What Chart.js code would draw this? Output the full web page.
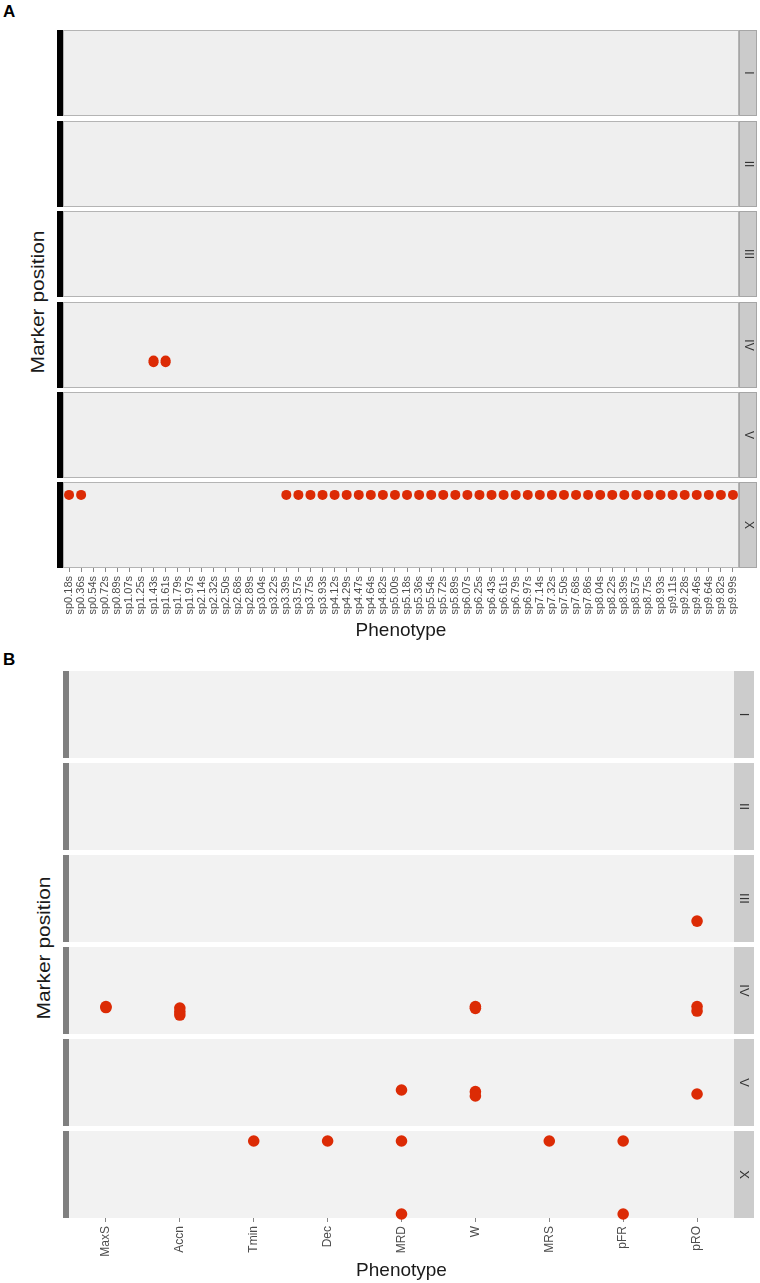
<!DOCTYPE html>
<html>
<head>
<meta charset="utf-8">
<script src="https://cdn.jsdelivr.net/npm/chart.js@4.4.1/dist/chart.umd.min.js"></script>
<style>
  body { margin: 0; background: #fff; width: 760px; height: 1283px; position: relative; overflow: hidden;
         font-family: "Liberation Sans", Arial, sans-serif; }
  canvas { position: absolute; left: 0; }
  .tag { position: absolute; font-weight: bold; font-size: 17px; color: #000; }
  .ytitle { position: absolute; width: 240px; height: 24px; line-height: 24px; text-align: center;
            font-size: 19px; color: #1a1a1a; transform: rotate(-90deg) scaleX(1.1); white-space: nowrap; }
</style>
</head>
<body>
<div class="tag" style="left:3px;top:2px">A</div>
<div class="tag" style="left:3px;top:650px">B</div>
<div class="ytitle" style="left:-82px;top:290px">Marker position</div>
<div class="ytitle" style="left:-76px;top:936px">Marker position</div>

<script>
// Facets (chromosomes)
const chromosomes = ['I', 'II', 'III', 'IV', 'V', 'X'];

// Panel A phenotypes
const phenotypesA = [
  'sp0.18s', 'sp0.36s', 'sp0.54s', 'sp0.72s', 'sp0.89s', 'sp1.07s', 'sp1.25s', 'sp1.43s',
  'sp1.61s', 'sp1.79s', 'sp1.97s', 'sp2.14s', 'sp2.32s', 'sp2.50s', 'sp2.68s', 'sp2.89s',
  'sp3.04s', 'sp3.22s', 'sp3.39s', 'sp3.57s', 'sp3.75s', 'sp3.93s', 'sp4.12s', 'sp4.29s',
  'sp4.47s', 'sp4.64s', 'sp4.82s', 'sp5.00s', 'sp5.18s', 'sp5.36s', 'sp5.54s', 'sp5.72s',
  'sp5.89s', 'sp6.07s', 'sp6.25s', 'sp6.43s', 'sp6.61s', 'sp6.79s', 'sp6.97s', 'sp7.14s',
  'sp7.32s', 'sp7.50s', 'sp7.68s', 'sp7.86s', 'sp8.04s', 'sp8.22s', 'sp8.39s', 'sp8.57s',
  'sp8.75s', 'sp8.93s', 'sp9.11s', 'sp9.28s', 'sp9.46s', 'sp9.64s', 'sp9.82s', 'sp9.99s'
];

// Panel A hits
const hitPhenoA = [
  'sp1.43s', 'sp1.43s', 'sp1.61s', 'sp1.61s',
  'sp0.18s', 'sp0.36s', 'sp3.39s', 'sp3.57s', 'sp3.75s', 'sp3.93s', 'sp4.12s', 'sp4.29s',
  'sp4.47s', 'sp4.64s', 'sp4.82s', 'sp5.00s', 'sp5.18s', 'sp5.36s', 'sp5.54s', 'sp5.72s',
  'sp5.89s', 'sp6.07s', 'sp6.25s', 'sp6.43s', 'sp6.61s', 'sp6.79s', 'sp6.97s', 'sp7.14s',
  'sp7.32s', 'sp7.50s', 'sp7.68s', 'sp7.86s', 'sp8.04s', 'sp8.22s', 'sp8.39s', 'sp8.57s',
  'sp8.75s', 'sp8.93s', 'sp9.11s', 'sp9.28s', 'sp9.46s', 'sp9.64s', 'sp9.82s', 'sp9.99s'
];
const hitChromA = [
  'IV', 'IV', 'IV', 'IV',
  'X', 'X', 'X', 'X', 'X', 'X', 'X', 'X', 'X', 'X', 'X', 'X', 'X', 'X', 'X', 'X',
  'X', 'X', 'X', 'X', 'X', 'X', 'X', 'X', 'X', 'X', 'X', 'X', 'X', 'X', 'X', 'X',
  'X', 'X', 'X', 'X', 'X', 'X', 'X', 'X'
];
const hitPosA = [
  32, 30, 32, 30,
  85, 85, 85, 85, 85, 85, 85, 85, 85, 85, 85, 85, 85, 85, 85, 85,
  85, 85, 85, 85, 85, 85, 85, 85, 85, 85, 85, 85, 85, 85, 85, 85,
  85, 85, 85, 85, 85, 85, 85, 85
];

// Panel B phenotypes and hits
const phenotypesB = ['MaxS', 'Accn', 'Tmin', 'Dec', 'MRD', 'W', 'MRS', 'pFR', 'pRO'];
const hitPhenoB = [
  'pRO',
  'MaxS', 'MaxS', 'Accn', 'Accn', 'Accn', 'W', 'W', 'pRO', 'pRO',
  'MRD', 'W', 'W', 'pRO',
  'Tmin', 'Dec', 'MRD', 'MRS', 'pFR', 'MRD', 'pFR'
];
const hitChromB = [
  'III',
  'IV', 'IV', 'IV', 'IV', 'IV', 'IV', 'IV', 'IV', 'IV',
  'V', 'V', 'V', 'V',
  'X', 'X', 'X', 'X', 'X', 'X', 'X'
];
const hitPosB = [
  24,
  31.6, 30.4, 29.9, 25.5, 21.8, 31.6, 29.5, 31.6, 26.4,
  41.4, 39.5, 34.5, 36.8,
  88.5, 88.5, 88.5, 88.5, 88.5, 4.6, 4.6
];

const FONT = '"Liberation Sans", Arial, sans-serif';
const POINT_RED = '#dc2b05';

// Draws panel background, left bar and right strip
const facetDecor = {
  id: 'facetDecor',
  beforeDraw(chart, args, o) {
    const { ctx, chartArea: a } = chart;
    ctx.save();
    ctx.fillStyle = o.panelFill;
    ctx.fillRect(a.left, a.top, a.right - a.left, a.bottom - a.top);
    if (o.panelBorder) {
      ctx.strokeStyle = o.panelBorder;
      ctx.lineWidth = 1;
      ctx.strokeRect(a.left + 0.5, a.top + 0.5, a.right - a.left - 1, a.bottom - a.top - 1);
    }
    ctx.fillStyle = o.barColor;
    ctx.fillRect(a.left - 6, a.top, 6, a.bottom - a.top);
    ctx.fillStyle = o.stripFill;
    ctx.fillRect(a.right, a.top, o.stripWidth, a.bottom - a.top);
    if (o.stripBorder) {
      ctx.strokeStyle = o.stripBorder;
      ctx.strokeRect(a.right + 0.5, a.top + 0.5, o.stripWidth - 1, a.bottom - a.top - 1);
    }
    ctx.translate(a.right + o.stripWidth / 2, (a.top + a.bottom) / 2);
    ctx.rotate(Math.PI / 2);
    ctx.fillStyle = '#333333';
    ctx.font = o.stripFont + 'px ' + FONT;
    ctx.textAlign = 'center';
    ctx.textBaseline = 'middle';
    ctx.fillText(o.label, 0, 0);
    ctx.restore();
  }
};

function makeFacet(p) {
  const canvas = document.createElement('canvas');
  canvas.width = 760;
  canvas.height = p.height;
  canvas.style.top = p.top + 'px';
  canvas.style.width = '760px';
  canvas.style.height = p.height + 'px';
  document.body.appendChild(canvas);

  const points = [];
  p.chroms.forEach((c, i) => {
    if (c === p.chrom) points.push({ x: p.phenos[i], y: p.pos[i] });
  });

  new Chart(canvas.getContext('2d'), {
    type: 'scatter',
    data: {
      labels: p.labels,
      datasets: [{
        data: points,
        backgroundColor: POINT_RED,
        borderWidth: 0,
        pointRadius: p.radius,
        clip: false
      }]
    },
    options: {
      responsive: false,
      animation: false,
      layout: { autoPadding: false, padding: { left: p.left, right: 760 - p.right, top: 0, bottom: 0 } },
      plugins: {
        legend: { display: false },
        tooltip: { enabled: false },
        facetDecor: p.decor
      },
      scales: {
        x: {
          type: 'category',
          offset: true,
          display: p.bottom,
          grid: { display: true, offset: false, drawOnChartArea: false, drawTicks: true,
                  tickLength: 4, color: '#888888', lineWidth: 1 },
          border: { display: false },
          ticks: { autoSkip: false, minRotation: 90, maxRotation: 90, padding: 4,
                   color: '#4d4d4d', font: { family: FONT, size: p.tickFont } },
          title: { display: true, text: 'Phenotype', color: '#1a1a1a',
                   font: { family: FONT, size: 19 }, padding: 0 },
          afterFit: s => { s.height = p.bottom ? p.axisHeight : 0; }
        },
        y: { type: 'linear', min: 0, max: 100, display: false }
      }
    },
    plugins: [facetDecor]
  });
}

// Panel A
const topsA = [30, 121, 211, 302, 392, 482];
chromosomes.forEach((c, i) => {
  const bottom = i === chromosomes.length - 1;
  makeFacet({
    chrom: c, labels: phenotypesA, phenos: hitPhenoA, chroms: hitChromA, pos: hitPosA,
    top: topsA[i], height: bottom ? 86 + 74 : 86, axisHeight: 74, bottom,
    left: 63, right: 739, radius: 5, tickFont: 11,
    decor: { panelFill: '#efefef', panelBorder: '#b4b4b4', barColor: '#000000',
             stripFill: '#cbcbcb', stripBorder: '#a6a6a6', stripWidth: 18, stripFont: 12, label: c }
  });
});

// Panel B
const topsB = [671, 763, 855, 947, 1039, 1131];
chromosomes.forEach((c, i) => {
  const bottom = i === chromosomes.length - 1;
  makeFacet({
    chrom: c, labels: phenotypesB, phenos: hitPhenoB, chroms: hitChromB, pos: hitPosB,
    top: topsB[i], height: bottom ? 87 + 64 : 87, axisHeight: 64, bottom,
    left: 69, right: 734, radius: 5.8, tickFont: 12,
    decor: { panelFill: '#f2f2f2', panelBorder: null, barColor: '#7f7f7f',
             stripFill: '#cccccc', stripBorder: null, stripWidth: 20, stripFont: 13, label: c }
  });
});
</script>
</body>
</html>
